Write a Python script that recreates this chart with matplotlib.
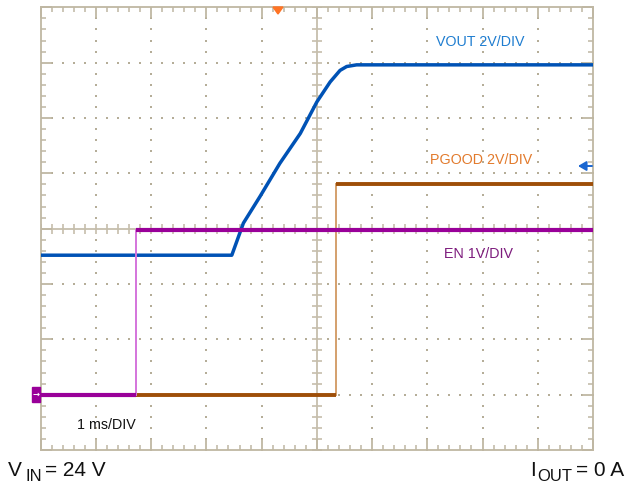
import numpy as np
import matplotlib
matplotlib.use("Agg")
import matplotlib.pyplot as plt
from matplotlib.patches import Rectangle, Polygon, FancyArrowPatch

plt.rcParams['font.family'] = ['Liberation Sans', 'DejaVu Sans']

# ---- data (time in ms = divisions, level in screen divisions) ----
vout_t = [0.0, 3.46, 3.67, 3.97, 4.33, 4.70, 5.00, 5.24, 5.42, 5.54, 5.72, 10.0]
vout_v = [3.52, 3.52, 4.10, 4.58, 5.18, 5.72, 6.29, 6.65, 6.86, 6.93, 6.96, 6.96]

pgood_t = [0.0, 5.34, 5.34, 10.0]
pgood_v = [1.00, 1.00, 4.80, 4.80]

en_t = [0.0, 1.73, 1.73, 10.0]
en_v = [1.00, 1.00, 3.98, 3.98]

labels = ["VOUT 2V/DIV", "PGOOD 2V/DIV", "EN 1V/DIV"]
time_label = "1 ms/DIV"

W, H = 627, 484
fig = plt.figure(figsize=(W / 100, H / 100), dpi=100)
L, R, T, B = 40.7, 593.0, 7.3, 450.0
ax = fig.add_axes([L / W, 1 - B / H, (R - L) / W, (B - T) / H])
ax.set_xlim(0, 10)
ax.set_ylim(0, 8)

frame_c = '#bfb7a3'
dot_c = '#b5ad98'
for s in ax.spines.values():
    s.set_color(frame_c)
    s.set_linewidth(1.3)

ax.set_xticks(np.arange(0, 11, 1))
ax.set_xticks(np.arange(0, 10.01, 0.2), minor=True)
ax.set_yticks(np.arange(0, 9, 1))
ax.set_yticks(np.arange(0, 8.01, 0.2), minor=True)
ax.tick_params(which='both', direction='in', top=True, right=True,
               labelbottom=False, labelleft=False, color=frame_c)
ax.tick_params(which='major', length=8, width=1.3)
ax.tick_params(which='minor', length=3.3, width=1.1)

# dotted graticule
xs = np.arange(0, 10.01, 0.2)
ys = np.arange(0, 8.01, 0.2)
for gx in range(1, 10):
    if gx == 5:
        continue
    ax.scatter(np.full(len(ys), gx), ys, s=1.6, marker='s', color=dot_c, lw=0, zorder=1)
for gy in range(1, 8):
    if gy == 4:
        continue
    ax.scatter(xs, np.full(len(xs), gy), s=1.6, marker='s', color=dot_c, lw=0, zorder=1)

# centre cross with ticks
cc = '#c6beac'
ax.axvline(5, color=cc, lw=1.3, zorder=1)
ax.axhline(4, color=cc, lw=1.3, zorder=1)
ax.plot(np.full(len(ys), 5), ys, ls='none', marker='_', ms=7, mew=1.2, color=cc, zorder=1)
ax.plot(xs, np.full(len(xs), 4), ls='none', marker='|', ms=7, mew=1.2, color=cc, zorder=1)

# traces
blue = '#0052b5'
brown = '#9e4e08'
purple = '#990099'
ax.plot(vout_t, vout_v, color=blue, lw=2.5, solid_capstyle='butt', zorder=3)

ax.plot(pgood_t[1:3], pgood_v[1:3], color='#d4a06c', lw=1.4, zorder=4)
ax.plot(pgood_t[:2], pgood_v[:2], color=brown, lw=2.8, solid_capstyle='butt', zorder=4)
ax.plot(pgood_t[2:], pgood_v[2:], color=brown, lw=2.8, solid_capstyle='butt', zorder=4)

ax.plot(en_t[1:3], en_v[1:3], color='#d474dc', lw=1.4, zorder=5)
ax.plot(en_t[:2], en_v[:2], color=purple, lw=3.0, solid_capstyle='butt', zorder=5)
ax.plot(en_t[2:], en_v[2:], color=purple, lw=3.0, solid_capstyle='butt', zorder=5)

def fx(px):
    return px / W

def fy(py):
    return 1 - py / H

fs = 10.3
fig.text(fx(480), fy(42.5), labels[0], color='#1f7dd0', fontsize=fs, ha='center', va='center')
fig.text(fx(481), fy(160.5), labels[1], color='#e27a2c', fontsize=fs, ha='center', va='center')
fig.text(fx(478), fy(254), labels[2], color='#7d1c7d', fontsize=fs, ha='center', va='center')
fig.text(fx(106), fy(425), time_label, color='#111111', fontsize=fs, ha='center', va='center')

# condition notes (with large subscripts)
big, small = 15, 12
tc = '#111111'
fig.text(fx(7.5), fy(476.5), 'V', fontsize=big, color=tc, ha='left', va='baseline')
fig.text(fx(25.5), fy(481), 'IN', fontsize=small, color=tc, ha='left', va='baseline')
fig.text(fx(45.2), fy(476.5), '= 24 V', fontsize=big, color=tc, ha='left', va='baseline')

fig.text(fx(530.5), fy(476.5), 'I', fontsize=big, color=tc, ha='left', va='baseline')
fig.text(fx(537.2), fy(481), 'OUT', fontsize=small, color=tc, ha='left', va='baseline')
fig.text(fx(624), fy(476.5), '= 0 A', fontsize=big, color=tc, ha='right', va='baseline')

# ground marker (purple square with arrow)
fig.patches.append(Rectangle((fx(32), fy(402)), 8 / W, 15 / H, transform=fig.transFigure,
                             color=purple, zorder=6))
fig.text(fx(36), fy(394.5), '→', color='white', fontsize=6, ha='center', va='center',
         fontweight='bold', family='DejaVu Sans', zorder=7)

# trigger marker
fig.patches.append(Polygon([[fx(273), fy(7)], [fx(283), fy(7)], [fx(278), fy(14)]],
                           closed=True, transform=fig.transFigure, color='#ff7324', zorder=6))

# blue reference arrow
fig.add_artist(FancyArrowPatch((fx(592), fy(166)), (fx(578), fy(166)),
               transform=fig.transFigure, arrowstyle='-|>,head_length=0.6,head_width=0.35',
               mutation_scale=8, shrinkA=0, shrinkB=0, color='#1a66d0', lw=1.4))

fig.savefig('out.png', dpi=100)
